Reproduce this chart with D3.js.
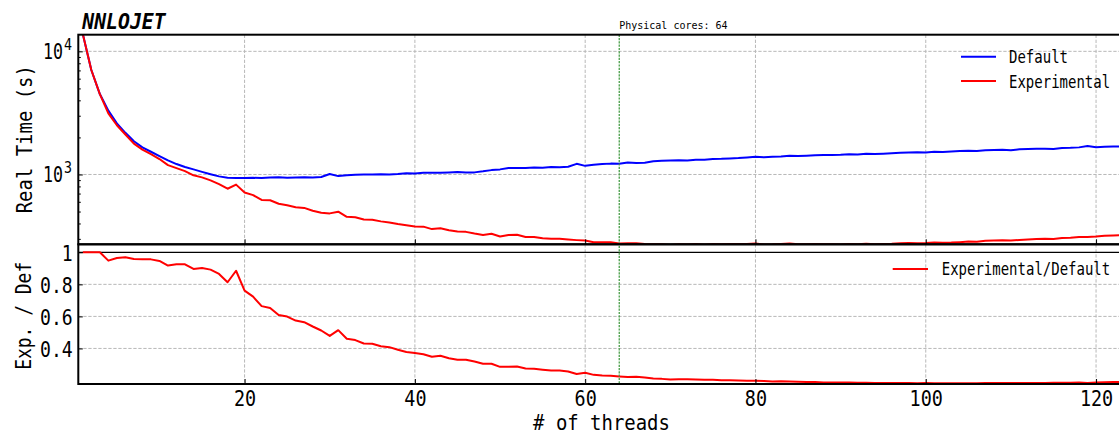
<!DOCTYPE html>
<html><head><meta charset="utf-8">
<script src="https://cdn.jsdelivr.net/npm/d3@7"></script>
<style>
body{margin:0;background:#fff}
svg{display:block}
text{font-family:"DejaVu Sans Mono",monospace;fill:#000}
</style>
</head><body>
<svg id="c" width="1119" height="434"></svg>
<script>
// ---------------- data ----------------
const threads = [1,2,3,4,5,6,7,8,9,10,11,12,13,14,15,16,17,18,19,20,
21,22,23,24,25,26,27,28,29,30,31,32,33,34,35,36,37,38,39,40,
41,42,43,44,45,46,47,48,49,50,51,52,53,54,55,56,57,58,59,60,
61,62,63,64,65,66,67,68,69,70,71,72,73,74,75,76,77,78,79,80,
81,82,83,84,85,86,87,88,89,90,91,92,93,94,95,96,97,98,99,100,
101,102,103,104,105,106,107,108,109,110,111,112,113,114,115,116,117,118,119,120,
121,122,123,124];

const defaultTime = [13800,7050,4500,3300,2600,2180,1860,1660,1530,1410,
1300,1215,1150,1100,1050,1005,965,942,935,938,
940,935,945,950,940,945,948,945,955,1010,
970,985,995,1000,1000,1005,1000,1010,1025,1020,
1035,1035,1035,1040,1045,1040,1040,1060,1085,1100,
1130,1130,1130,1140,1135,1150,1145,1155,1220,1175,
1200,1215,1225,1220,1250,1240,1245,1280,1290,1300,
1305,1300,1320,1320,1335,1340,1350,1360,1375,1390,
1380,1395,1400,1420,1410,1420,1435,1440,1440,1445,
1460,1455,1475,1465,1475,1490,1500,1510,1515,1510,
1530,1525,1540,1550,1560,1550,1575,1580,1585,1575,
1600,1610,1615,1620,1610,1640,1645,1660,1700,1665,
1680,1685,1690,1695];

const experimentalTime = [13800,7050,4500,3130,2510,2110,1780,1590,1460,1335,
1190,1125,1065,985,947,896,835,766,827,714,
680,621,617,579,563,542,535,507,489,483,
499,453,450,431,429,416,408,396,387,378,
377,360,366,353,345,342,331,322,330,314,
322,324,311,311,303,301,300,296,293,291,
282,281,281,275,276,277,273,271,271,268,
271,270,272,269,272,271,273,272,272,275,
270,271,273,275,271,271,273,271,271,270,
273,271,274,271,273,274,276,278,277,278,
280,279,280,282,285,284,290,291,292,291,
294,296,299,300,299,305,306,310,311,313,
318,320,321,324];

const ratio = [1.0,1.0,1.0,0.948,0.964,0.969,0.958,0.956,0.956,0.946,
0.917,0.925,0.925,0.896,0.902,0.892,0.865,0.813,0.885,0.761,
0.723,0.664,0.653,0.609,0.599,0.574,0.564,0.537,0.512,0.478,
0.514,0.46,0.452,0.431,0.429,0.414,0.408,0.392,0.378,0.371,
0.364,0.348,0.354,0.339,0.330,0.329,0.318,0.304,0.304,0.285,
0.285,0.287,0.275,0.273,0.267,0.262,0.262,0.256,0.240,0.248,
0.235,0.231,0.229,0.225,0.221,0.223,0.219,0.212,0.210,0.206,
0.208,0.208,0.206,0.204,0.204,0.202,0.202,0.200,0.198,0.198,
0.196,0.194,0.195,0.194,0.192,0.191,0.190,0.188,0.188,0.187,
0.187,0.186,0.186,0.185,0.185,0.184,0.184,0.184,0.183,0.184,
0.183,0.183,0.182,0.182,0.183,0.183,0.184,0.184,0.184,0.185,
0.184,0.184,0.185,0.185,0.186,0.186,0.186,0.187,0.184,0.188,
0.189,0.19,0.19,0.191];

const xTicks = [20,40,60,80,100,120];
const yTopMajor = [1000,10000];
const yTopMinor = [300,400,500,600,700,800,900,2000,3000,4000,5000,6000,7000,8000,9000];
const yBotTicks = [0.4,0.6,0.8,1];
const physicalCores = 64;
const seriesNames = ["Default","Experimental"];
const ratioName = "Experimental/Default";

// ---------------- layout ----------------
const L = 78.3, R = 1121, T1 = 34.7, B1 = 244.3, T2 = 244.3, B2 = 384;
const svg = d3.select("#c");

const x = d3.scaleLinear().domain([0.47, 122.93]).range([L, R]);
const y1 = d3.scaleLog().domain([271, 13650]).range([B1, T1]);
const y2 = d3.scaleLinear().domain([0.178, 1.05]).range([B2, T2]);

const defs = svg.append("defs");
defs.append("clipPath").attr("id","clip1").append("rect").attr("x",L).attr("y",T1).attr("width",R-L).attr("height",B1-T1);
defs.append("clipPath").attr("id","clip2").append("rect").attr("x",L).attr("y",T2).attr("width",R-L).attr("height",B2-T2);

function squeeze(sel, cw){ sel.each(function(){ const t=d3.select(this).text(); d3.select(this).attr("textLength", t.length*cw).attr("lengthAdjust","spacingAndGlyphs"); }); }

const gridColor = "#b8b8b8", gridDash = "3.3,1.7";

// grid
const grid = svg.append("g");
grid.selectAll(".gx1").data(xTicks).join("line")
  .attr("x1",d=>x(d)).attr("x2",d=>x(d)).attr("y1",T1).attr("y2",B1)
  .attr("stroke",gridColor).attr("stroke-width",1).attr("stroke-dasharray",gridDash);
grid.selectAll(".gx2").data(xTicks).join("line")
  .attr("x1",d=>x(d)).attr("x2",d=>x(d)).attr("y1",T2).attr("y2",B2)
  .attr("stroke",gridColor).attr("stroke-width",1).attr("stroke-dasharray",gridDash);
grid.selectAll(".gy1").data(yTopMajor).join("line")
  .attr("x1",L).attr("x2",R).attr("y1",d=>y1(d)).attr("y2",d=>y1(d))
  .attr("stroke",gridColor).attr("stroke-width",1).attr("stroke-dasharray",gridDash);
grid.selectAll(".gy2").data([0.4,0.6,0.8]).join("line")
  .attr("x1",L).attr("x2",R).attr("y1",d=>y2(d)).attr("y2",d=>y2(d))
  .attr("stroke",gridColor).attr("stroke-width",1).attr("stroke-dasharray",gridDash);

// ratio = 1 line
svg.append("line").attr("x1",L).attr("x2",R).attr("y1",y2(1)).attr("y2",y2(1))
  .attr("stroke","#000").attr("stroke-width",1.3);

// series
const line1 = d3.line().x((d,i)=>x(threads[i])).y(d=>y1(d));
const line2 = d3.line().x((d,i)=>x(threads[i])).y(d=>y2(d));
const p1 = svg.append("g").attr("clip-path","url(#clip1)");
p1.append("path").datum(defaultTime).attr("d",line1).attr("fill","none").attr("stroke","#0000ff").attr("stroke-width",2).attr("stroke-linejoin","round");
p1.append("path").datum(experimentalTime).attr("d",line1).attr("fill","none").attr("stroke","#ff0000").attr("stroke-width",2).attr("stroke-linejoin","round");
const p2 = svg.append("g").attr("clip-path","url(#clip2)");
p2.append("path").datum(ratio).attr("d",line2).attr("fill","none").attr("stroke","#ff0000").attr("stroke-width",2).attr("stroke-linejoin","round");

// physical cores line
svg.append("line").attr("x1",x(physicalCores)).attr("x2",x(physicalCores)).attr("y1",T1).attr("y2",B2)
  .attr("stroke","#3a963a").attr("stroke-width",1.2).attr("stroke-dasharray","2.2,1.1");
svg.append("text").attr("x",x(physicalCores)).attr("y",28.6).attr("font-size",10)
  .text("Physical cores: " + physicalCores);

// axes
function styleAxis(g){ g.select(".domain").remove(); g.selectAll(".tick line").attr("stroke","#000").attr("stroke-width",1); }

// top panel x ticks (inward, no labels)
svg.append("g").attr("transform",`translate(0,${B1})`)
  .call(d3.axisBottom(x).tickValues(xTicks).tickSizeInner(-5).tickSizeOuter(0).tickFormat(""))
  .call(styleAxis).selectAll("text").remove();
// bottom panel x axis
const gxb = svg.append("g").attr("transform",`translate(0,${B2})`)
  .call(d3.axisBottom(x).tickValues(xTicks).tickSizeInner(-5).tickSizeOuter(0).tickFormat(d3.format("d")))
  .call(styleAxis);
gxb.selectAll("text").attr("y",21.7).attr("dy",null).attr("font-size",22).attr("font-family","DejaVu Sans Mono").call(squeeze,11.1);

// top y axis
svg.append("g").attr("transform",`translate(${L},0)`)
  .call(d3.axisLeft(y1).tickValues(yTopMajor).tickSizeInner(-4.5).tickSizeOuter(0).tickFormat(""))
  .call(styleAxis).selectAll("text").remove();
svg.append("g").attr("transform",`translate(${L},0)`)
  .call(d3.axisLeft(y1).tickValues(yTopMinor).tickSizeInner(-2.5).tickSizeOuter(0).tickFormat(""))
  .call(styleAxis).selectAll("text").remove();
// 10^n labels: base and superscript in one text element
const topLab = svg.append("g");
topLab.selectAll("text").data(yTopMajor).join("text")
  .attr("x",43).attr("y",d=>y1(d)+8).attr("font-size",22)
  .each(function(d){
    const t = d3.select(this);
    t.append("tspan").text("10").attr("textLength",20).attr("lengthAdjust","spacingAndGlyphs");
    t.append("tspan").attr("font-size",15).attr("dy",-9.2).attr("dx",1)
      .text(String(Math.round(Math.log10(d)))).attr("textLength",8).attr("lengthAdjust","spacingAndGlyphs");
  });

// bottom y axis
const gyb = svg.append("g").attr("transform",`translate(${L},0)`)
  .call(d3.axisLeft(y2).tickValues(yBotTicks).tickSizeInner(-4.5).tickSizeOuter(0).tickFormat(d=>d===1?"1":d3.format(".1f")(d)))
  .call(styleAxis);
gyb.selectAll("text").attr("x",-5.6).attr("dy","0.36em").attr("font-size",22).attr("font-family","DejaVu Sans Mono").call(squeeze,10.9);

// spines
const sp = svg.append("g").attr("fill","none").attr("stroke","#000").attr("stroke-width",2);
sp.append("rect").attr("x",L).attr("y",T1).attr("width",R-L).attr("height",B1-T1);
sp.append("rect").attr("x",L).attr("y",T2).attr("width",R-L).attr("height",B2-T2);

// title
svg.append("text").attr("x",82.3).attr("y",29.3).attr("font-size",22).attr("font-weight","bold").attr("font-style","italic")
  .text("NNLOJET").call(squeeze,11.9);

// axis labels
svg.append("text").attr("x",601.5).attr("y",429.5).attr("text-anchor","middle").attr("font-size",21)
  .text("# of threads").call(squeeze,11.4);
svg.append("text").attr("transform","translate(31.5,139.2) rotate(-90)").attr("text-anchor","middle").attr("font-size",22)
  .text("Real Time (s)").call(squeeze,11.4);
svg.append("text").attr("transform","translate(31,315.8) rotate(-90)").attr("text-anchor","middle").attr("font-size",22)
  .text("Exp. / Def").call(squeeze,10.8);

// legends (font sized by width, stretched vertically)
const legTop = svg.append("g");
const legColors = ["#0000ff","#ff0000"];
const legY = [56.7, 81];
seriesNames.forEach((n,i)=>{
  legTop.append("line").attr("x1",961).attr("x2",996).attr("y1",legY[i]).attr("y2",legY[i]).attr("stroke",legColors[i]).attr("stroke-width",2);
  legTop.append("text").attr("transform",`translate(1009,${legY[i]+6.5}) scale(1,1.22)`).attr("font-size",14).text(n);
});
svg.append("line").attr("x1",892.7).attr("x2",928).attr("y1",269).attr("y2",269).attr("stroke","#ff0000").attr("stroke-width",2);
svg.append("text").attr("transform","translate(941.7,275.3) scale(1,1.22)").attr("font-size",14).text(ratioName);
</script>
</body></html>
